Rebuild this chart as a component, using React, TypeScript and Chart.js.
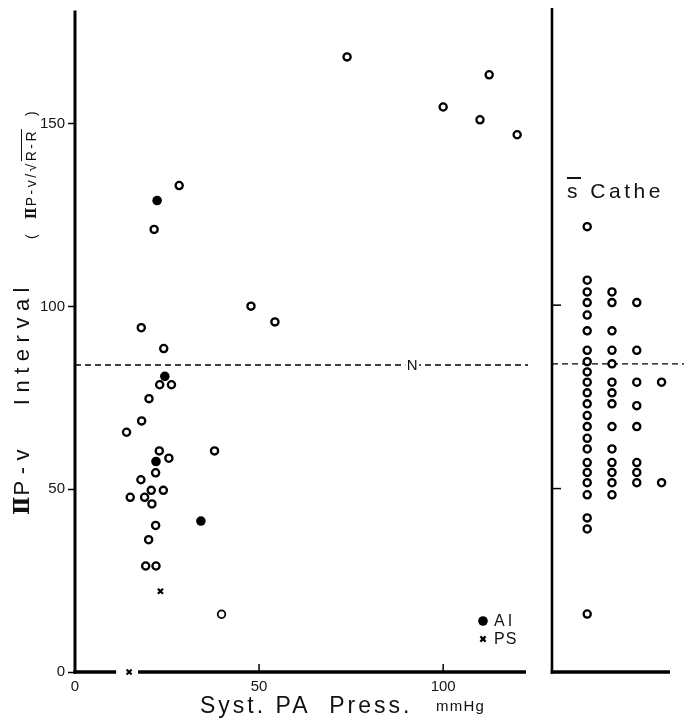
import React, { useEffect, useRef } from "react";
import { Chart, registerables } from "chart.js";
Chart.register(...registerables);

// ---- data (left panel: Syst. PA pressure vs IIP-v interval) ----
const openX = [73.9, 112.5, 100.0, 110.0, 120.1, 28.3, 21.5, 47.8, 54.3, 18.0, 24.1, 23.0, 26.2, 20.1, 18.1, 14.0, 22.9, 25.5, 37.9, 21.9, 17.9, 20.7, 24.0, 15.0, 18.9, 20.9, 21.9, 20.0, 19.2, 22.0];
const openY = [168.3, 163.4, 154.6, 151.1, 147.0, 133.1, 121.1, 100.1, 95.8, 94.2, 88.5, 78.6, 78.6, 74.8, 68.7, 65.6, 60.5, 58.5, 60.5, 54.5, 52.6, 49.7, 49.7, 47.8, 47.8, 46.0, 40.1, 36.2, 29.0, 29.0];
const aiX = [22.3, 24.4, 22.0, 34.2];
const aiY = [129.0, 80.9, 57.6, 41.3];
const psX = [23.2, 14.7];
const psY = [22.1, 0];
const combinedX = [39.8];
const combinedY = [15.8];
const normalValue = 84;
const normalLabelX = 91.6;
const xTickValues = [0, 50, 100];
const yTickValues = [0, 50, 100, 150];
const rightTickValues = [50, 100];
const xMin = 0;
const xMax = 122.5;
const yMin = 0;
const yMax = 181;

// ---- data (right panel: without catheter) ----
const catheColumns = [1, 2, 3, 4];
const catheCol1 = [121.4, 106.8, 103.6, 100.7, 97.3, 93.0, 87.7, 84.6, 81.8, 79.0, 76.1, 73.1, 69.9, 66.9, 63.7, 60.8, 57.1, 54.4, 51.6, 48.3, 42.0, 39.0, 15.8];
const catheCol2 = [103.6, 100.7, 93.0, 87.7, 84.0, 79.0, 76.1, 73.1, 66.9, 60.8, 57.1, 54.4, 51.6, 48.3];
const catheCol3 = [100.7, 87.7, 79.0, 72.6, 66.9, 57.1, 54.4, 51.6];
const catheCol4 = [79.0, 51.6];
const catheXMin = -0.42;
const catheXMax = 4.34;

const FONT = "'Liberation Sans', Arial, Helvetica, sans-serif";
const ROMAN_FONT = "'DejaVu Serif', 'Liberation Serif', serif";

const toPts = (xs: number[], ys: number[]) => xs.map((x, i) => ({ x, y: ys[i] }));

const leftDecor = {
  id: "leftDecor",
  beforeDatasetsDraw(chart: any) {
    const { ctx, chartArea: a, scales } = chart;
    const x = scales.x;
    const y = scales.y;
    ctx.save();
    ctx.strokeStyle = "#000";
    ctx.lineCap = "butt";
    ctx.lineWidth = 3;
    ctx.beginPath();
    ctx.moveTo(a.left, a.top);
    ctx.lineTo(a.left, a.bottom + 1.7);
    ctx.stroke();
    const zi = psY.indexOf(0);
    const gx = x.getPixelForValue(psX[zi]);
    ctx.lineWidth = 3.5;
    ctx.beginPath();
    ctx.moveTo(a.left - 1.5, a.bottom);
    ctx.lineTo(gx - 13, a.bottom);
    ctx.moveTo(gx + 9, a.bottom);
    ctx.lineTo(a.right, a.bottom);
    ctx.stroke();
    ctx.lineWidth = 1.5;
    for (const v of xTickValues) {
      if (v <= xMin) continue;
      const px = x.getPixelForValue(v);
      ctx.beginPath();
      ctx.moveTo(px, a.bottom);
      ctx.lineTo(px, a.bottom - 8);
      ctx.stroke();
    }
    const ny = y.getPixelForValue(normalValue);
    ctx.lineWidth = 1.4;
    ctx.setLineDash([6, 4]);
    ctx.beginPath();
    ctx.moveTo(a.left, ny);
    ctx.lineTo(a.right + 2, ny);
    ctx.stroke();
    ctx.setLineDash([]);
    const nx = x.getPixelForValue(normalLabelX);
    ctx.fillStyle = "#fff";
    ctx.fillRect(nx - 7, ny - 8, 14, 16);
    ctx.fillStyle = "#111";
    ctx.font = `15px ${FONT}`;
    ctx.textAlign = "center";
    ctx.textBaseline = "middle";
    ctx.fillText("N", nx, ny + 1);
    ctx.restore();
  },
  afterDatasetsDraw(chart: any) {
    const { ctx, chartArea: a } = chart;
    ctx.save();
    const lx = a.right - 43;
    const y1 = a.bottom - 51;
    const y2 = a.bottom - 33;
    ctx.fillStyle = "#000";
    ctx.beginPath();
    ctx.arc(lx, y1, 4.8, 0, Math.PI * 2);
    ctx.fill();
    ctx.strokeStyle = "#000";
    ctx.lineWidth = 2.2;
    ctx.beginPath();
    ctx.moveTo(lx - 2.6, y2 - 2.6);
    ctx.lineTo(lx + 2.6, y2 + 2.6);
    ctx.moveTo(lx + 2.6, y2 - 2.6);
    ctx.lineTo(lx - 2.6, y2 + 2.6);
    ctx.stroke();
    ctx.font = `16px ${FONT}`;
    (ctx as any).letterSpacing = "3px";
    ctx.textAlign = "left";
    ctx.textBaseline = "middle";
    ctx.fillStyle = "#111";
    ctx.fillText("AI", lx + 11, y1 + 1);
    (ctx as any).letterSpacing = "1px";
    ctx.fillText("PS", lx + 11, y2 + 1);
    ctx.restore();
  },
};

const rightDecor = {
  id: "rightDecor",
  beforeDatasetsDraw(chart: any) {
    const { ctx, chartArea: a, scales } = chart;
    const y = scales.y;
    ctx.save();
    ctx.strokeStyle = "#000";
    ctx.lineWidth = 2.6;
    ctx.beginPath();
    ctx.moveTo(a.left, a.top);
    ctx.lineTo(a.left, a.bottom + 1.7);
    ctx.stroke();
    ctx.lineWidth = 3.5;
    ctx.beginPath();
    ctx.moveTo(a.left - 1.3, a.bottom);
    ctx.lineTo(a.right, a.bottom);
    ctx.stroke();
    ctx.lineWidth = 1.5;
    for (const v of rightTickValues) {
      const py = y.getPixelForValue(v);
      ctx.beginPath();
      ctx.moveTo(a.left, py);
      ctx.lineTo(a.left + 9, py);
      ctx.stroke();
    }
    const ny = y.getPixelForValue(normalValue);
    ctx.lineWidth = 1.4;
    ctx.setLineDash([6, 4]);
    ctx.beginPath();
    ctx.moveTo(a.left, ny);
    ctx.lineTo(a.right + 14, ny);
    ctx.stroke();
    ctx.restore();
  },
};

const openStyle = {
  pointStyle: "circle",
  pointRadius: 3.6,
  pointBorderWidth: 2.3,
  pointBackgroundColor: "#fff",
  pointBorderColor: "#000",
  showLine: false,
  clip: false as any,
};

export default function App() {
  const leftRef = useRef<HTMLCanvasElement>(null);
  const rightRef = useRef<HTMLCanvasElement>(null);

  useEffect(() => {
    if (!leftRef.current || !rightRef.current) return;
    const left = new Chart(leftRef.current, {
      type: "scatter",
      data: {
        datasets: [
          { data: toPts(openX, openY), ...openStyle } as any,
          {
            data: toPts(aiX, aiY),
            pointStyle: "circle",
            pointRadius: 4.8,
            pointBorderWidth: 0,
            pointBackgroundColor: "#000",
            pointBorderColor: "#000",
            clip: false,
          },
          {
            data: toPts(psX, psY),
            pointStyle: "crossRot",
            pointRadius: 3.6,
            pointBorderWidth: 2.2,
            pointBorderColor: "#000",
            clip: false,
          },
          { data: toPts(combinedX, combinedY), ...openStyle, pointRadius: 3.8, pointBorderWidth: 1.8 } as any,
          {
            data: toPts(combinedX, combinedY),
            pointStyle: "cross",
            pointRadius: 3.8,
            pointBorderWidth: 1.3,
            pointBorderColor: "#000",
            clip: false,
          },
        ],
      },
      options: {
        animation: false,
        responsive: false,
        events: [],
        layout: { padding: { left: 0, top: 8, right: 14, bottom: 0 } },
        plugins: { legend: { display: false }, tooltip: { enabled: false } },
        scales: {
          x: {
            type: "linear",
            min: xMin,
            max: xMax,
            afterFit: (s: any) => {
              s.height = 53;
            },
            afterBuildTicks: (s: any) => {
              s.ticks = xTickValues.map((v) => ({ value: v }));
            },
            ticks: { font: { family: FONT, size: 15, lineHeight: 1 }, color: "#151515", padding: 7, maxRotation: 0 },
            grid: { display: false, drawTicks: false },
            border: { display: false },
          },
          y: {
            type: "linear",
            min: yMin,
            max: yMax,
            afterFit: (s: any) => {
              s.width = 75;
            },
            afterBuildTicks: (s: any) => {
              s.ticks = yTickValues.map((v) => ({ value: v }));
            },
            ticks: { font: { family: FONT, size: 15, lineHeight: 1 }, color: "#151515", padding: 3 },
            grid: { drawOnChartArea: false, drawTicks: true, tickLength: 7, tickWidth: 1.5, tickColor: "#000", color: "#000" },
            border: { display: false },
          },
        },
      } as any,
      plugins: [leftDecor],
    });

    const cols = [catheCol1, catheCol2, catheCol3, catheCol4];
    const right = new Chart(rightRef.current, {
      type: "scatter",
      data: {
        datasets: cols.map((c, i) => ({
          data: c.map((v) => ({ x: catheColumns[i], y: v })),
          ...openStyle,
        })) as any,
      },
      options: {
        animation: false,
        responsive: false,
        events: [],
        layout: { padding: { left: 12, top: 8, right: 21, bottom: 53 } },
        plugins: { legend: { display: false }, tooltip: { enabled: false } },
        scales: {
          x: { type: "linear", min: catheXMin, max: catheXMax, display: false },
          y: { type: "linear", min: yMin, max: yMax, display: false },
        },
      } as any,
      plugins: [rightDecor],
    });

    return () => {
      left.destroy();
      right.destroy();
    };
  }, []);

  const text: React.CSSProperties = {
    position: "absolute",
    fontFamily: FONT,
    color: "#111",
    whiteSpace: "nowrap",
    lineHeight: 1,
  };
  const roman: React.CSSProperties = { fontFamily: ROMAN_FONT, fontWeight: "bold", letterSpacing: "1px" };

  return (
    <div style={{ position: "absolute", left: 0, top: 0, width: 691, height: 725, background: "#fff", overflow: "hidden" }}>
      <canvas ref={leftRef} width={540} height={725} style={{ position: "absolute", left: 0, top: 0, width: 540, height: 725 }} />
      <canvas ref={rightRef} width={151} height={725} style={{ position: "absolute", left: 540, top: 0, width: 151, height: 725 }} />
      <div
        style={{
          ...text,
          left: 21,
          top: 398,
          fontSize: 22,
          letterSpacing: "6.5px",
          transform: "translate(-50%, -50%) rotate(-90deg)",
        }}
      >
        <span style={roman}>Ⅱ</span>P-v&nbsp;&nbsp;&nbsp;Interval
      </div>
      <div
        style={{
          ...text,
          left: 31,
          top: 174,
          fontSize: 14,
          letterSpacing: "2.5px",
          transform: "translate(-50%, -50%) rotate(-90deg)",
        }}
      >
        (&nbsp;&nbsp;<span style={roman}>Ⅱ</span>P-v/√<span style={{ borderTop: "1px solid #111", paddingTop: 1 }}>R-R</span>&nbsp;&nbsp;)
      </div>
      <div style={{ ...text, left: 200, top: 694, fontSize: 23, letterSpacing: "3px" }}>Syst.&nbsp;PA&nbsp;&nbsp;Press.</div>
      <div style={{ ...text, left: 436, top: 698, fontSize: 15, letterSpacing: "1.2px" }}>mmHg</div>
      <div style={{ ...text, left: 567, top: 180, fontSize: 21, letterSpacing: "3.5px" }}>
        <span style={{ textDecoration: "overline" }}>s</span>&nbsp;Cathe
      </div>
    </div>
  );
}
